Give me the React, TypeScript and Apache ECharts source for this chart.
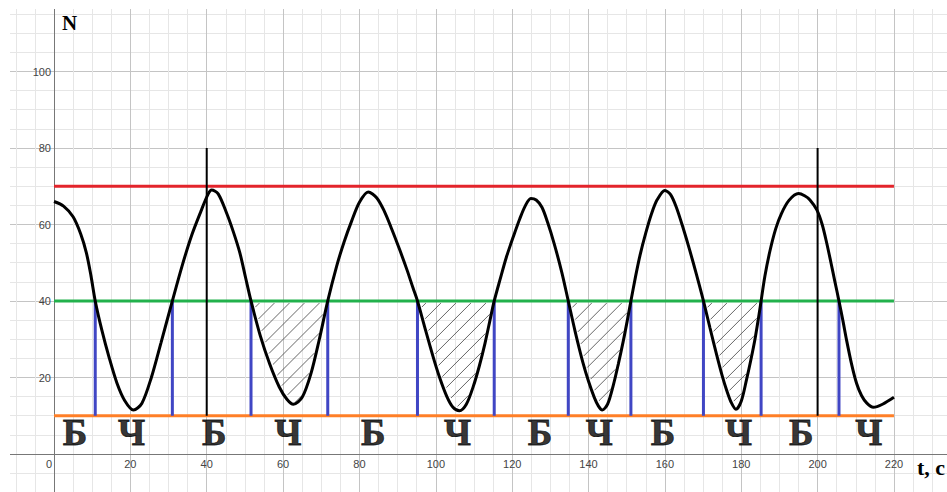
import React, { useEffect, useRef } from "react";
import * as echarts from "echarts";

// ---- data ----
const curveX = [
  0, 2.5, 5, 7, 8.5, 9.7, 10.8, 12.5, 14.5, 16.5, 18.5, 20.8,
  23, 25.5, 28, 31, 33.5, 36, 38.5, 40.3, 41.3,
  43, 45.2, 47, 48.7, 50.2, 51.6, 54, 56.5, 59, 61, 62.7,
  65, 67.3, 69.5, 71.7, 74, 76, 78, 80, 82.3,
  84.5, 86.5, 88.5, 90.5, 92.5, 94, 95.2, 97, 99.3, 101, 102.9, 104.5, 106.2,
  108, 109.8, 111.4, 112.9, 114.2, 115.3, 116.8, 118.5, 120.3, 122, 123.5, 124.9,
  126.3, 127.8, 129.3, 131, 133, 134.7, 136.5, 138.5, 140, 141.5, 142.6, 143.6,
  145, 146.5, 147.8, 149.1, 150.1, 151.1, 152.3, 153.5, 155, 156.5, 158, 160,
  161.5, 163, 164.8, 166.5, 168.3, 170.1, 171.8, 173.6, 175, 176.2, 177.4, 178.6,
  180, 181.4, 182.5, 183.6, 184.4, 185.2, 186.2, 187.5, 189, 190.5, 192.5, 195,
  196.6, 198, 199.8, 201.2, 202.4, 203.5, 204.5, 205.6, 206.6, 207.6, 208.9, 210.2, 211.5, 212.9, 214.6,
  217, 220,
];
const curveY = [
  66, 64.8, 62, 57.5, 52.5, 46.5, 40, 32.5, 25, 18.5, 14, 11.5,
  13.2, 20, 29, 40, 49, 57, 63.5, 67.8, 69,
  68, 63, 58, 52.5, 46, 40, 31, 23.5, 17.5, 14.3, 13,
  14.8, 21, 30, 40, 49, 55.5, 61, 65.8, 68.5,
  67, 63.5, 58.7, 53.5, 48, 43.5, 40, 33.5, 25.4, 20, 15, 12.2, 11.3,
  13, 17.6, 23, 29, 35, 40, 45.5, 51.5, 56.8, 61.5, 65, 66.8,
  66.4, 64.5, 60.5, 55, 47.5, 40, 32, 24, 19, 14.8, 12.5, 11.5,
  13, 18, 23.5, 29.5, 34.6, 40, 46.3, 52, 57.8, 62.8, 66.5, 68.9,
  67.8, 64.5, 59, 53.3, 46.8, 40, 33, 25.8, 20.5, 16.6, 13.4, 11.7,
  13.8, 19.5, 24.5, 30, 34.8, 40, 46.5, 53, 58.8, 62.8, 66.3, 68.1,
  67.5, 66.4, 63.8, 60, 55.1, 50, 45.2, 40, 35, 29.7, 23.5, 18.5, 15.3, 13.3, 12.2,
  13, 14.8,
];
const crossX = [10.8, 31, 51.6, 71.7, 95.2, 115.3, 134.7, 151.1, 170.1, 185.2, 205.6];
const hatchRanges = [
  [51.6, 71.7],
  [95.2, 115.3],
  [134.7, 151.1],
  [170.1, 185.2],
];
const upperLevel = 70;
const midLevel = 40;
const lowerLevel = 10;
const levelStart = 0;
const levelEnd = 220;
const markerX = [40, 200];
const markerTop = 80;
const zoneX = [5.5, 20.3, 42, 61.3, 83.6, 105.7, 127.3, 142.8, 159.5, 179.3, 195.7, 213.4];
const zoneText = ["Б", "Ч", "Б", "Ч", "Б", "Ч", "Б", "Ч", "Б", "Ч", "Б", "Ч"];
const zoneY = 5.6;
const xTicks = [0, 20, 40, 60, 80, 100, 120, 140, 160, 180, 200, 220];
const yTicks = [20, 40, 60, 80, 100];

const SERIF = '"Liberation Serif", "Times New Roman", serif';
const SANS = '"Liberation Sans", Arial, sans-serif';
const MINOR = "#e6e6e6";
const MAJOR = "#c4c4c4";

export default function App() {
  const ref = useRef<HTMLDivElement>(null);

  useEffect(() => {
    const chart = echarts.init(ref.current as HTMLDivElement, null, { renderer: "svg" });

    const vert = (xs: number[], y0: number, y1: number) =>
      xs.flatMap((x) => [[x, y0], [x, y1], [x, "-"]]);

    const option: any = {
      animation: false,
      backgroundColor: "#fff",
      grid: [
        {
          left: -3.27,
          right: -4.23,
          top: -5,
          bottom: -0.2,
          containLabel: false,
          outerBoundsMode: "none",
        },
        {
          left: 54,
          right: 53,
          top: -5,
          bottom: 38,
          containLabel: false,
          outerBoundsMode: "none",
        },
      ],
      xAxis: [
        {
          type: "value",
          gridIndex: 0,
          min: -15,
          max: 235,
          interval: 5,
          axisLine: { show: true, onZero: true, lineStyle: { color: "#777", width: 1 } },
          axisTick: { show: false },
          axisLabel: { show: false },
          splitLine: { show: true, lineStyle: { color: [MINOR, MINOR, MINOR, MAJOR], width: 1 } },
        },
        {
          type: "value",
          gridIndex: 1,
          min: 0,
          max: 220,
          interval: 20,
          position: "bottom",
          axisLine: { show: false },
          axisTick: { show: false },
          splitLine: { show: false },
          axisLabel: {
            show: true,
            showMinLabel: true,
            showMaxLabel: true,
            margin: 4,
            color: "#444",
            fontSize: 11,
            fontFamily: SANS,
            formatter: (v: number) => {
              const r = Math.round(v);
              if (r === 0) return "{z|0}";
              return xTicks.includes(r) ? String(r) : "";
            },
            rich: {
              z: { padding: [0, 10, 0, 0], color: "#444", fontSize: 11, fontFamily: SANS },
            },
          },
        },
      ],
      yAxis: [
        {
          type: "value",
          gridIndex: 0,
          min: -10,
          max: 120,
          interval: 5,
          axisLine: { show: true, onZero: true, lineStyle: { color: "#777", width: 1 } },
          axisTick: { show: false },
          axisLabel: { show: false },
          splitLine: { show: true, lineStyle: { color: [MINOR, MINOR, MAJOR, MINOR], width: 1 } },
        },
        {
          type: "value",
          gridIndex: 1,
          min: 0,
          max: 120,
          interval: 20,
          position: "left",
          axisLine: { show: false },
          axisTick: { show: false },
          splitLine: { show: false },
          axisLabel: {
            show: true,
            margin: 3,
            color: "#444",
            fontSize: 11,
            fontFamily: SANS,
            formatter: (v: number) => {
              const r = Math.round(v);
              return yTicks.includes(r) ? String(r) : "";
            },
          },
        },
      ],
      graphic: [
        { type: "rect", left: 0, top: 0, z: 50, shape: { width: 947, height: 9 }, style: { fill: "#fff" }, silent: true },
        { type: "rect", left: 0, top: 0, z: 50, shape: { width: 10, height: 492 }, style: { fill: "#fff" }, silent: true },
        {
          type: "text",
          left: 62,
          top: 12,
          z: 60,
          style: { text: "N", font: `bold 21px ${SERIF}`, fill: "#000" },
        },
        {
          type: "text",
          left: 917,
          top: 456,
          z: 60,
          style: { text: "t, c", font: `bold 22px ${SERIF}`, fill: "#000" },
        },
      ],
      series: [
        {
          type: "line",
          data: [[levelStart, upperLevel], [levelEnd, upperLevel]],
          symbol: "none",
          lineStyle: { color: "#e3242b", width: 3 },
          z: 3,
        },
        {
          type: "line",
          data: [[levelStart, midLevel], [levelEnd, midLevel]],
          symbol: "none",
          lineStyle: { color: "#22b14c", width: 3 },
          z: 3,
        },
        {
          type: "line",
          data: [[levelStart, lowerLevel], [levelEnd, lowerLevel]],
          symbol: "none",
          lineStyle: { color: "#ff7f27", width: 3 },
          z: 3,
        },
        {
          type: "line",
          data: vert(crossX, lowerLevel, midLevel),
          symbol: "none",
          connectNulls: false,
          lineStyle: { color: "#4046c4", width: 3 },
          z: 4,
        },
        {
          type: "custom",
          data: hatchRanges.map((r) => [r[0], midLevel]),
          z: 4,
          silent: true,
          renderItem: (params: any, api: any) => {
            const [a, b] = hatchRanges[params.dataIndex];
            const pts: number[][] = [];
            for (let i = 0; i < curveX.length; i++) {
              if (curveX[i] >= a - 1e-6 && curveX[i] <= b + 1e-6) pts.push(api.coord([curveX[i], curveY[i]]));
            }
            const n = pts.length;
            const sums = pts.map((p) => p[0] + p[1]);
            const cMin = Math.min(...sums);
            const cMax = Math.max(...sums);
            const step = 15;
            const children: any[] = [];
            for (let c = cMin + step * 0.7; c < cMax; c += step) {
              const hits: number[][] = [];
              for (let i = 0; i < n; i++) {
                const p = pts[i];
                const q = pts[(i + 1) % n];
                const fp = p[0] + p[1] - c;
                const fq = q[0] + q[1] - c;
                if (fp < 0 !== fq < 0) {
                  const t = fp / (fp - fq);
                  hits.push([p[0] + t * (q[0] - p[0]), p[1] + t * (q[1] - p[1])]);
                }
              }
              hits.sort((u, v) => u[0] - v[0]);
              for (let k = 0; k + 1 < hits.length; k += 2) {
                const [x1, y1] = hits[k];
                const [x2, y2] = hits[k + 1];
                const len = Math.hypot(x2 - x1, y2 - y1);
                const inset = 3;
                if (len <= 2 * inset + 2) continue;
                const ux = (x2 - x1) / len;
                const uy = (y2 - y1) / len;
                children.push({
                  type: "line",
                  shape: { x1: x1 + ux * inset, y1: y1 + uy * inset, x2: x2 - ux * inset, y2: y2 - uy * inset },
                  style: { stroke: "#555", lineWidth: 0.9 },
                });
              }
            }
            return { type: "group", children };
          },
        },
        {
          type: "line",
          data: curveX.map((x, i) => [x, curveY[i]]),
          symbol: "none",
          smooth: 0.3,
          lineStyle: { color: "#000", width: 3 },
          z: 5,
        },
        {
          type: "line",
          data: vert(markerX, lowerLevel, markerTop),
          symbol: "none",
          connectNulls: false,
          lineStyle: { color: "#000", width: 2 },
          z: 6,
        },
        {
          type: "scatter",
          data: zoneX.map((x, i) => ({ value: [x, zoneY], name: zoneText[i] })),
          symbolSize: 1,
          itemStyle: { color: "rgba(0,0,0,0)" },
          z: 7,
          label: {
            show: true,
            position: "inside",
            formatter: (p: any) => p.name,
            fontFamily: SERIF,
            fontWeight: "bold",
            fontSize: 37,
            color: "#000",
            textBorderColor: "#000",
            textBorderWidth: 0.8,
          },
        },
      ],
    };

    chart.setOption(option);
    return () => chart.dispose();
  }, []);

  return (
    <div
      ref={ref}
      style={{ position: "fixed", left: 0, top: 0, width: 947, height: 492, background: "#fff" }}
    />
  );
}
